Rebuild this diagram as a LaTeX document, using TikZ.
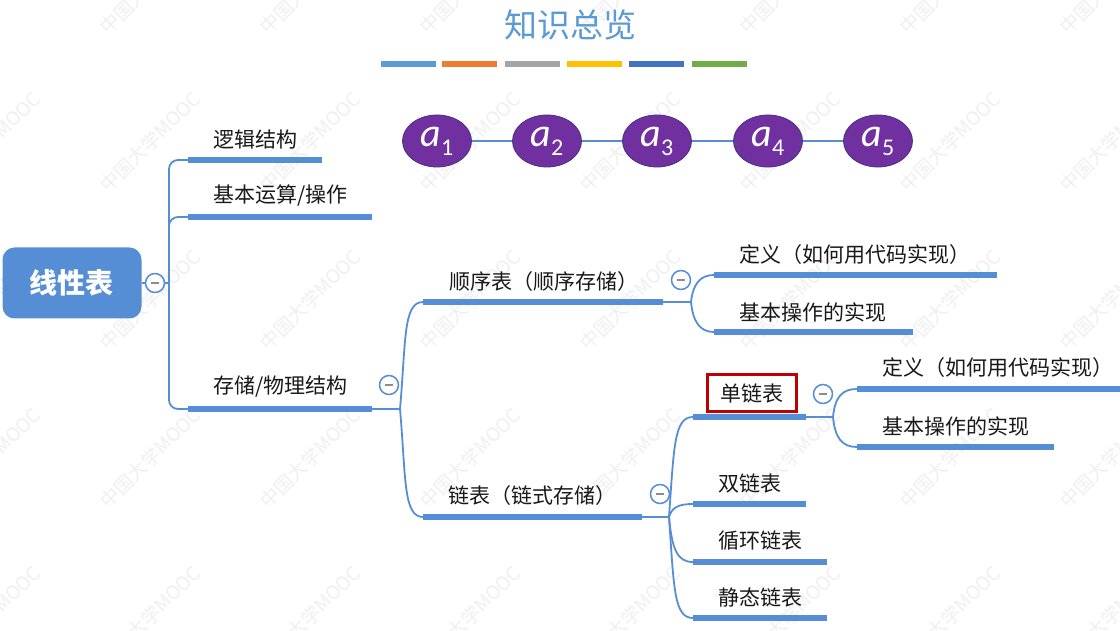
\documentclass[tikz,border=0pt]{standalone}
\usepackage{fontspec}
\setmainfont{Carlito}
\newfontfamily\cjk{Noto Sans CJK SC}
\usetikzlibrary{shapes.geometric,calc}

\definecolor{lineblue}{RGB}{86,142,213}
\definecolor{titleblue}{RGB}{91,155,213}
\definecolor{rootblue}{RGB}{85,142,213}
\definecolor{elempurple}{RGB}{112,48,160}
\definecolor{elemedge}{RGB}{70,50,130}
\definecolor{textdark}{RGB}{25,25,25}
\definecolor{boxred}{RGB}{192,0,0}
\definecolor{barA}{RGB}{91,155,213}
\definecolor{barB}{RGB}{237,125,49}
\definecolor{barC}{RGB}{165,165,165}
\definecolor{barD}{RGB}{255,192,0}
\definecolor{barE}{RGB}{68,114,196}
\definecolor{barF}{RGB}{112,173,71}

\newcommand\elemlabel[1]{{\itshape a}\raisebox{-9pt}{\fontsize{24}{24}\selectfont #1}}

\begin{document}
\begin{tikzpicture}[x=1pt,y=-1pt,
  topic/.style={anchor=west,inner sep=0pt,text=textdark,
    font=\cjk\fontsize{21}{21}\selectfont},
  uline/.style={draw=lineblue,line width=5.5pt},
  branch/.style={draw=lineblue,line width=1.8pt},
  fold/.style={circle,draw=lineblue,line width=1.5pt,fill=white,
    minimum size=19pt,inner sep=0pt,
    path picture={\draw[black!45,line width=1.5pt]
      ([xshift=-4pt]path picture bounding box.center) --
      ([xshift=4pt]path picture bounding box.center);}},
  elem/.style={ellipse,fill=elempurple,draw=elemedge,line width=0.8pt,
    minimum width=69pt,minimum height=52pt,inner sep=0pt,text=white,
    font=\fontsize{40}{40}\selectfont},
  chain/.style={draw=lineblue,line width=2pt},
  watermark/.style={anchor=south west,rotate=45,inner sep=0pt,text=black!6,
    font=\cjk\fontsize{19}{19}\selectfont}]

\useasboundingbox (0,0) rectangle (1120,631);
\fill[white] (0,0) rectangle (1120,631);

% faint diagonal watermark grid
\foreach \i in {0,...,7}
  \foreach \j in {0,...,4}
    \node[watermark] (wm-\i-\j) at (-50+160*\i, 37+158*\j) {中国大学MOOC};

% heading and colour strip
\node[text=titleblue,font=\cjk\fontsize{33}{33}\selectfont,inner sep=0pt]
  (title) at (570,25) {知识总览};
\foreach \xa/\c in {381/barA,442/barB,505/barC,567/barD,629/barE,692/barF}
  \fill[\c] (\xa,61) rectangle ++(55,6);

% sequence of elements
\node[elem] (a1) at (437,141) {\elemlabel{1}};
\node[elem] (a2) at (547,141) {\elemlabel{2}};
\node[elem] (a3) at (657,141) {\elemlabel{3}};
\node[elem] (a4) at (768,141) {\elemlabel{4}};
\node[elem] (a5) at (878,141) {\elemlabel{5}};
\draw[chain] (a1) -- (a2);
\draw[chain] (a2) -- (a3);
\draw[chain] (a3) -- (a4);
\draw[chain] (a4) -- (a5);

% root topic
\node[fill=rootblue,rounded corners=12pt,minimum width=139pt,minimum height=71pt,
  inner sep=0pt,text=white,font=\cjk\bfseries\fontsize{28}{28}\selectfont]
  (root) at (72,283) {线性表};

% anchor points of the branch lines
\coordinate (trunk) at (169,283);
\coordinate (u1s) at (188,160);  \coordinate (u1e) at (322,160);
\coordinate (u2s) at (188,217);  \coordinate (u2e) at (372,217);
\coordinate (u3s) at (188,409);  \coordinate (u3e) at (372,409);
\coordinate (sp3) at (400,409);
\coordinate (u4s) at (423,302);  \coordinate (u4e) at (663,302);
\coordinate (sp4) at (691,302);
\coordinate (u5s) at (423,517);  \coordinate (u5e) at (642,517);
\coordinate (sp5) at (669,517);
\coordinate (u6s) at (714,275);  \coordinate (u6e) at (997,275);
\coordinate (u7s) at (714,332);  \coordinate (u7e) at (913,332);
\coordinate (u8s) at (693,417);  \coordinate (u8e) at (806,417);
\coordinate (sp8) at (833,417);
\coordinate (u9s) at (693,504);  \coordinate (u9e) at (806,504);
\coordinate (u10s) at (693,562); \coordinate (u10e) at (827,562);
\coordinate (u11s) at (693,618); \coordinate (u11e) at (827,618);
\coordinate (u12s) at (857,389); \coordinate (u12e) at (1120,389);
\coordinate (u13s) at (857,447); \coordinate (u13e) at (1054,447);

% first level
\draw[branch] (root.east) -- (trunk);
\draw[branch,rounded corners=9pt] (trunk) |- (u1s);
\draw[branch,rounded corners=9pt] (trunk) |- (u2s);
\draw[branch,rounded corners=9pt] (trunk) |- (u3s);

% storage subtree
\draw[branch] (u3e) -- (sp3);
\draw[branch] (sp3) .. controls ($(sp3)+(6,-68)$) and ($(u4s)+(-20,0)$) .. (u4s);
\draw[branch] (sp3) .. controls ($(sp3)+(6,68)$) and ($(u5s)+(-20,0)$) .. (u5s);

% sequential list subtree
\draw[branch] (u4e) -- (sp4);
\draw[branch] (sp4) .. controls ($(sp4)+(2,-18)$) and ($(u6s)+(-14,0)$) .. (u6s);
\draw[branch] (sp4) .. controls ($(sp4)+(2,20)$) and ($(u7s)+(-14,0)$) .. (u7s);

% linked list subtree
\draw[branch] (u5e) -- (sp5);
\draw[branch] (sp5) .. controls ($(sp5)+(5,-70)$) and ($(u8s)+(-19,0)$) .. (u8s);
\draw[branch] (sp5) .. controls ($(sp5)+(3,-10)$) and ($(u9s)+(-14,0)$) .. (u9s);
\draw[branch] (sp5) .. controls ($(sp5)+(3,32)$) and ($(u10s)+(-16,0)$) .. (u10s);
\draw[branch] (sp5) .. controls ($(sp5)+(5,72)$) and ($(u11s)+(-19,0)$) .. (u11s);

% singly linked list subtree
\draw[branch] (u8e) -- (sp8);
\draw[branch] (sp8) .. controls ($(sp8)+(2,-20)$) and ($(u12s)+(-15,0)$) .. (u12s);
\draw[branch] (sp8) .. controls ($(sp8)+(2,21)$) and ($(u13s)+(-15,0)$) .. (u13s);

% topic underlines
\foreach \k in {1,...,13}
  \draw[uline] (u\k s) -- (u\k e);

% topic labels
\node[topic] (logic)   at (213,140) {逻辑结构};
\node[topic] (ops)     at (213,196) {基本运算/操作};
\node[topic] (store)   at (213,387) {存储/物理结构};
\node[topic] (seq)     at (449,282) {顺序表（顺序存储）};
\node[topic] (link)    at (448,496) {链表（链式存储）};
\node[topic] (seqdef)  at (739,255) {定义（如何用代码实现）};
\node[topic] (seqimpl) at (739,312) {基本操作的实现};
\node[draw=boxred,line width=2.4pt,minimum width=89pt,minimum height=37pt,
  inner sep=0pt,text=textdark,font=\cjk\fontsize{21}{21}\selectfont]
  (single) at (752,393) {单链表};
\node[topic] (double)  at (718,484) {双链表};
\node[topic] (circ)    at (718,541) {循环链表};
\node[topic] (static)  at (718,597) {静态链表};
\node[topic] (sdef)    at (882,368) {定义（如何用代码实现）};
\node[topic] (simpl)   at (882,426) {基本操作的实现};

% collapse markers
\node[fold] (fold-root)   at (155,283) {};
\node[fold] (fold-store)  at (389,385) {};
\node[fold] (fold-seq)    at (681,280) {};
\node[fold] (fold-link)   at (660,494) {};
\node[fold] (fold-single) at (823,394) {};
\end{tikzpicture}
\end{document}
